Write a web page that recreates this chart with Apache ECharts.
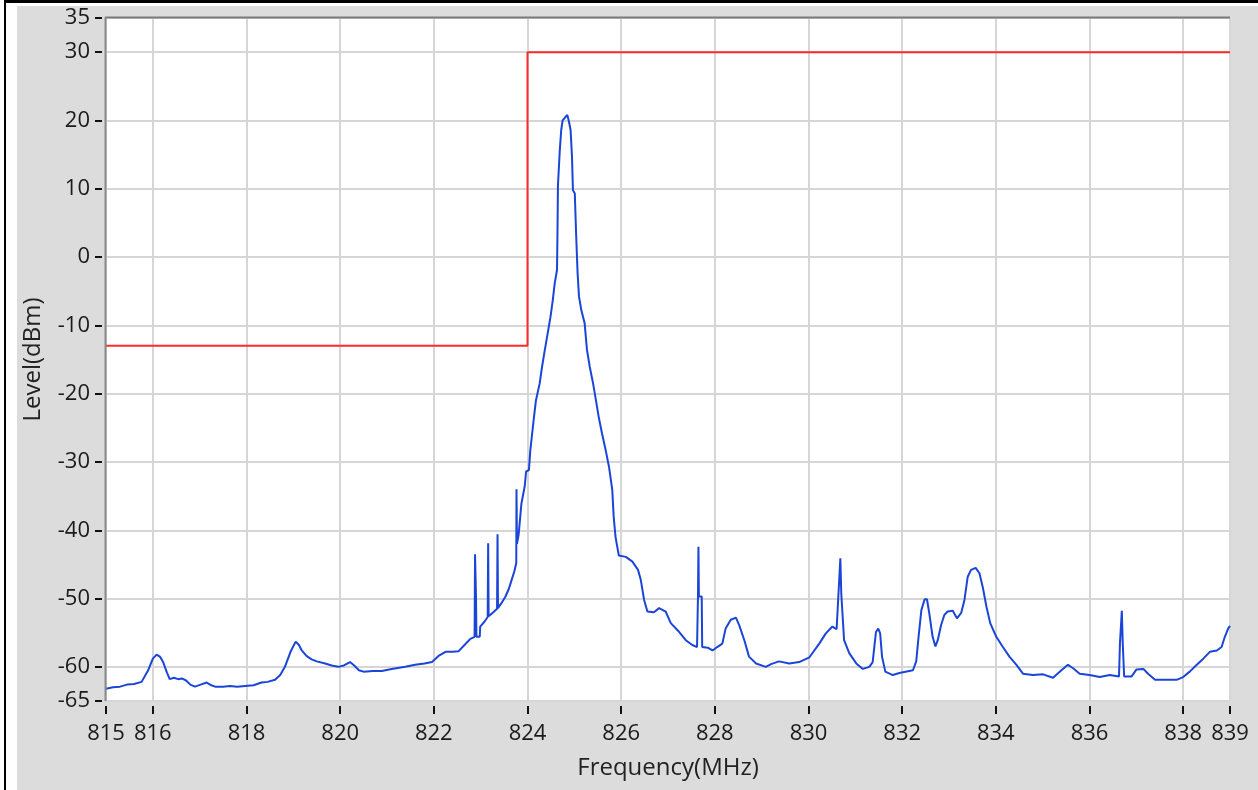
<!DOCTYPE html>
<html>
<head>
<meta charset="utf-8">
<script src="https://cdn.jsdelivr.net/npm/echarts@6/dist/echarts.min.js"></script>
<style>
  html, body { margin: 0; padding: 0; background: #ffffff; }
  #chart { width: 1258px; height: 790px; }
</style>
</head>
<body>
<div id="chart"></div>
<script>
// Frequency (MHz) of the measured trace
const freq = [
  815.00,815.15,815.30,815.45,815.60,815.76,815.90,816.00,816.08,816.15,816.22,816.30,816.36,816.45,816.54,816.62,816.71,816.80,816.90,817.02,
  817.15,817.25,817.33,817.50,817.65,817.80,817.97,818.15,818.32,818.45,818.61,818.72,818.82,818.94,819.05,819.12,819.18,819.28,819.39,819.50,
  819.68,819.82,819.96,820.08,820.21,820.30,820.40,820.50,820.70,820.89,821.10,821.39,821.60,821.80,821.96,822.10,822.25,822.40,822.53,822.67,
  822.78,822.87,822.88,822.90,822.91,822.98,822.99,823.08,823.15,823.16,823.17,823.27,823.35,823.36,823.37,823.45,823.53,823.60,823.66,823.72,
  823.76,823.765,823.775,823.81,823.87,823.94,823.97,824.03,824.06,824.10,824.13,824.18,824.26,824.31,824.37,824.43,824.49,824.54,824.58,824.63,
  824.64,824.65,824.69,824.72,824.75,824.81,824.85,824.88,824.92,824.95,824.97,825.01,825.04,825.07,825.10,825.15,825.22,825.27,825.33,825.40,
  825.45,825.52,825.59,825.67,825.74,825.81,825.84,825.88,825.95,826.10,826.24,826.36,826.42,826.49,826.56,826.70,826.81,826.95,827.06,827.24,
  827.38,827.52,827.62,827.64,827.65,827.66,827.72,827.73,827.85,827.95,828.05,828.16,828.23,828.34,828.45,828.52,828.63,828.73,828.88,829.09,
  829.20,829.37,829.59,829.80,830.02,830.23,830.37,830.51,830.60,830.64,830.68,830.70,830.73,830.76,830.87,831.02,831.16,831.30,831.37,831.44,
  831.49,831.53,831.57,831.64,831.80,831.94,832.23,832.30,832.35,832.41,832.48,832.53,832.58,832.65,832.71,832.76,832.83,832.90,832.97,833.08,
  833.17,833.26,833.33,833.40,833.47,833.57,833.65,833.72,833.80,833.88,834.01,834.15,834.29,834.44,834.58,834.79,835.01,835.22,835.40,835.54,
  835.65,835.79,836.00,836.22,836.43,836.63,836.65,836.69,836.71,836.73,836.74,836.90,837.00,837.15,837.25,837.40,837.65,837.86,838.00,838.14,
  838.29,838.43,838.57,838.72,838.82,838.89,838.96,839.00
];
// Level (dBm) of the measured trace
const level = [
  -63.2,-63.0,-62.9,-62.6,-62.5,-62.2,-60.5,-58.8,-58.2,-58.5,-59.3,-60.8,-61.8,-61.6,-61.8,-61.7,-62.0,-62.6,-62.9,-62.6,
  -62.3,-62.7,-62.9,-62.9,-62.8,-62.9,-62.8,-62.7,-62.3,-62.2,-61.9,-61.2,-60.0,-57.8,-56.3,-56.8,-57.6,-58.4,-58.9,-59.2,
  -59.5,-59.8,-60.0,-59.8,-59.3,-59.8,-60.5,-60.7,-60.6,-60.6,-60.3,-60.0,-59.7,-59.5,-59.3,-58.4,-57.8,-57.8,-57.7,-56.7,
  -55.9,-55.6,-43.5,-49.7,-55.6,-55.6,-54.1,-53.4,-52.7,-41.9,-52.6,-52.0,-51.5,-40.6,-51.4,-50.6,-49.7,-48.6,-47.3,-46.0,
  -44.8,-34.0,-42.0,-40.7,-36.1,-33.6,-31.4,-31.2,-28.3,-25.8,-23.9,-21.0,-18.5,-16.1,-13.6,-11.2,-8.8,-6.3,-3.9,-1.9,
  3.5,10.5,15.7,18.6,20.0,20.5,20.8,20.0,18.6,14.7,9.8,9.3,3.0,-2.4,-5.8,-7.8,-9.7,-13.6,-16.1,-18.5,
  -20.5,-23.4,-25.8,-28.3,-30.7,-34.1,-38.0,-41.0,-43.7,-43.9,-44.6,-45.8,-47.3,-50.2,-51.9,-52.0,-51.4,-51.9,-53.6,-54.9,
  -56.1,-56.8,-57.1,-49.7,-42.4,-49.7,-49.7,-57.1,-57.2,-57.6,-57.1,-56.6,-54.4,-53.1,-52.8,-53.9,-56.1,-58.5,-59.5,-60.0,
  -59.6,-59.2,-59.5,-59.3,-58.6,-56.6,-55.1,-54.1,-54.5,-49.3,-44.1,-49.3,-49.3,-56.1,-58.0,-59.5,-60.3,-60.0,-59.3,-54.9,
  -54.4,-55.1,-58.5,-60.7,-61.2,-60.9,-60.5,-59.2,-55.6,-51.7,-50.1,-50.1,-52.2,-55.6,-57.0,-56.1,-53.9,-52.4,-51.9,-51.8,
  -52.9,-52.1,-50.2,-46.8,-45.8,-45.5,-46.3,-48.3,-51.2,-53.6,-55.6,-57.1,-58.5,-59.7,-61.0,-61.2,-61.1,-61.6,-60.5,-59.7,
  -60.2,-61.0,-61.2,-61.5,-61.2,-61.4,-56.6,-51.8,-56.6,-56.6,-61.4,-61.4,-60.4,-60.3,-61.0,-61.9,-61.9,-61.9,-61.5,-60.7,
  -59.7,-58.8,-57.8,-57.6,-57.1,-55.6,-54.4,-54.0
];
// Limit mask
const limitFreq  = [815, 824, 824, 839];
const limitLevel = [-13, -13, 30, 30];
// Tick labels
const xTicks = [815, 816, 818, 820, 822, 824, 826, 828, 830, 832, 834, 836, 838, 839];
const yTicks = [35, 30, 20, 10, 0, -10, -20, -30, -40, -50, -60, -65];

const traceData = freq.map((f, i) => [f, level[i]]);
const limitData = limitFreq.map((f, i) => [f, limitLevel[i]]);

const chart = echarts.init(document.getElementById('chart'), null, { renderer: 'canvas' });
const FONT = 'Open Sans';
chart.setOption({
  animation: false,
  backgroundColor: 'transparent',
  graphic: [
    { type: 'rect', z: -100, silent: true, shape: { x: 17, y: 6, width: 1241, height: 784 }, style: { fill: '#dcdcdc' } },
    { type: 'rect', z: -100, silent: true, shape: { x: 4, y: 0, width: 2, height: 790 }, style: { fill: '#000' } },
    { type: 'rect', z: -100, silent: true, shape: { x: 4, y: 0, width: 1254, height: 3 }, style: { fill: '#000' } },
    { type: 'line', z: 100, silent: true, shape: { x1: 105, y1: 17.5, x2: 1230, y2: 17.5 }, style: { stroke: '#7a7a7a', lineWidth: 2 } },
    { type: 'line', z: 100, silent: true, shape: { x1: 105.5, y1: 17, x2: 105.5, y2: 701 }, style: { stroke: '#8a8a8a', lineWidth: 2 } }
  ],
  grid: {
    left: 106, top: 18, right: 28, bottom: 89,
    show: true, backgroundColor: '#ffffff', borderWidth: 0
  },
  xAxis: {
    type: 'value', min: 815, max: 839, offset: 5,
    name: 'Frequency(MHz)', nameLocation: 'middle', nameGap: 50,
    nameTextStyle: { fontFamily: FONT, fontSize: 24, color: '#222' },
    axisLine: { show: false, onZero: false },
    axisTick: { show: true, length: 8, lineStyle: { color: '#111', width: 2 }, customValues: xTicks },
    axisLabel: { fontFamily: FONT, fontSize: 22, color: '#1a1a1a', margin: 17, customValues: xTicks },
    splitLine: { show: true, lineStyle: { color: '#d6d6d6', width: 2 } }
  },
  yAxis: {
    type: 'value', min: -65, max: 35, offset: 4,
    name: 'Level(dBm)', nameLocation: 'middle', nameGap: 57, nameRotate: 90,
    nameTextStyle: { fontFamily: FONT, fontSize: 24, color: '#222' },
    axisLine: { show: false, onZero: false },
    axisTick: { show: true, length: 7, lineStyle: { color: '#111', width: 2 }, customValues: yTicks },
    axisLabel: { fontFamily: FONT, fontSize: 22, color: '#1a1a1a', margin: 12, customValues: yTicks },
    splitLine: { show: true, lineStyle: { color: '#d6d6d6', width: 2 } }
  },
  series: [
    {
      type: 'line', name: 'Limit', data: limitData, symbol: 'none', z: 3,
      lineStyle: { color: '#ff2a2a', width: 2 }
    },
    {
      type: 'line', name: 'Trace', data: traceData, symbol: 'none', z: 4,
      lineStyle: { color: '#1a45d8', width: 2 }
    }
  ]
});
</script>
</body>
</html>
